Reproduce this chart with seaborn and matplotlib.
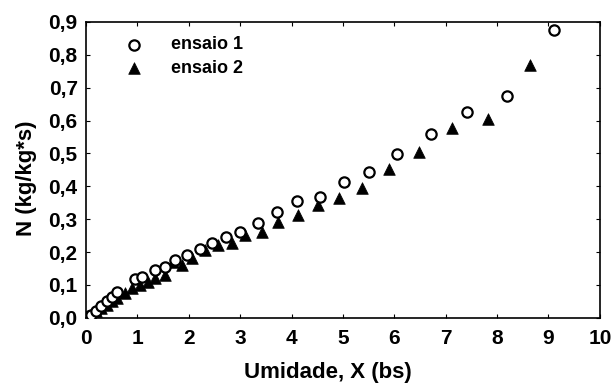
import pandas as pd
import matplotlib.pyplot as plt
import seaborn as sns
from matplotlib.ticker import FuncFormatter, MultipleLocator

# ensaio 1 (open circles)
x1 = [0.05, 0.1, 0.2, 0.3, 0.4, 0.5, 0.6, 0.95, 1.09, 1.34, 1.54, 1.73, 1.96,
      2.22, 2.45, 2.72, 3.0, 3.35, 3.72, 4.1, 4.55, 5.02, 5.5, 6.05, 6.71,
      7.41, 8.19, 9.1]
n1 = [0.005, 0.01, 0.02, 0.035, 0.05, 0.065, 0.08, 0.118, 0.125, 0.146, 0.155,
      0.176, 0.19, 0.21, 0.228, 0.246, 0.26, 0.289, 0.322, 0.356, 0.367, 0.413,
      0.444, 0.498, 0.559, 0.626, 0.675, 0.875]

# ensaio 2 (filled triangles)
x2 = [0.05, 0.1, 0.2, 0.3, 0.4, 0.5, 0.6, 0.75, 0.9, 1.05, 1.2, 1.35, 1.54,
      1.69, 1.87, 2.06, 2.32, 2.57, 2.84, 3.09, 3.42, 3.74, 4.12, 4.51, 4.92,
      5.37, 5.9, 6.48, 7.12, 7.82, 8.64]
n2 = [0.005, 0.01, 0.02, 0.03, 0.04, 0.05, 0.06, 0.075, 0.09, 0.1, 0.11, 0.12,
      0.131, 0.17, 0.161, 0.182, 0.207, 0.222, 0.228, 0.252, 0.261, 0.292,
      0.313, 0.343, 0.365, 0.395, 0.453, 0.505, 0.577, 0.605, 0.769]

df1 = pd.DataFrame({"X": x1, "N": n1})
df2 = pd.DataFrame({"X": x2, "N": n2})

sns.set_style("ticks")
plt.rcParams['font.family'] = ['Liberation Sans', 'DejaVu Sans']
for k in ["text.color", "axes.labelcolor", "xtick.color", "ytick.color", "axes.edgecolor"]:
    plt.rcParams[k] = "black"

fig = plt.figure(figsize=(6.14, 3.83), dpi=100)
ax = fig.add_axes([0.14, 0.17, 0.837, 0.773])

sns.scatterplot(data=df1, x="X", y="N", ax=ax, marker="o", s=55,
                facecolor="white", edgecolor="black", linewidth=1.6,
                label="ensaio 1", zorder=3)
sns.scatterplot(data=df2, x="X", y="N", ax=ax, marker="^", s=70,
                color="black", edgecolor="black", linewidth=0.5,
                label="ensaio 2", zorder=2)

ax.set_xlim(0, 10)
ax.set_ylim(0, 0.9)
ax.xaxis.set_major_locator(MultipleLocator(1))
ax.yaxis.set_major_locator(MultipleLocator(0.1))
ax.yaxis.set_major_formatter(FuncFormatter(lambda v, p: f"{v:.1f}".replace(".", ",")))
ax.tick_params(direction="in", top=True, right=True, length=3, width=0.8,
               labelsize=15)
ax.tick_params(axis="x", pad=8)
ax.tick_params(axis="y", pad=6)
for lbl in ax.get_xticklabels() + ax.get_yticklabels():
    lbl.set_fontweight("bold")
for sp in ax.spines.values():
    sp.set_linewidth(1.2)
    sp.set_visible(True)

ax.set_xlabel("Umidade, X (bs)", fontsize=16, fontweight="bold", va="top")
ax.set_ylabel("N (kg/kg*s)", fontsize=16, fontweight="bold")
ax.xaxis.set_label_coords(0.47, -0.148)
ax.yaxis.set_label_coords(-0.095, 0.473)

leg = ax.legend(loc="upper left", frameon=False, fontsize=13,
                handletextpad=1.0, labelspacing=0.35, borderpad=0.3,
                bbox_to_anchor=(0.031, 1.0))
for t in leg.get_texts():
    t.set_fontweight("bold")

fig.savefig("out.png", dpi=100)
